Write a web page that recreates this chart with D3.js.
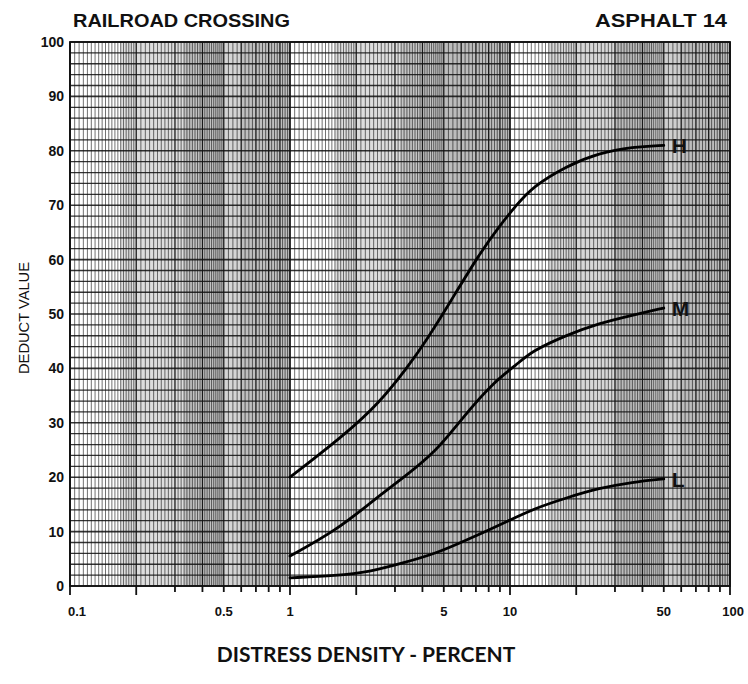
<!DOCTYPE html>
<html lang="en">
<head>
  <meta charset="UTF-8">
  <title>Railroad Crossing - Asphalt 14</title>
  <script src="https://d3js.org/d3.v7.min.js"></script>
  <style>
    body { margin: 0; background: #fff; }
    text { font-family: "Liberation Sans", Arial, sans-serif; fill: #111; }
  </style>
</head>
<body>
  <script>
    // Curve data (density %, deduct value)
    const densityH = [1, 1.81, 2.56, 3.39, 4.18, 5.31, 7.3, 8.95, 10.8, 12.6, 18, 25.4, 36, 50];
    const deductH  = [20, 28.1, 33.8, 40, 45.2, 52, 61.2, 66.2, 70.2, 73.3, 77.2, 79.6, 80.7, 81];

    const densityM = [1, 1.63, 2.3, 3.25, 4.64, 6.1, 8.33, 10.8, 12.6, 18, 25.4, 36, 50];
    const deductM  = [5.5, 10.3, 15.2, 19.8, 24.8, 31, 37.3, 40.8, 43.2, 46.1, 48.3, 49.8, 51.1];

    const densityL = [1, 1.63, 2.3, 3.25, 4.64, 6.56, 10, 13, 18, 25.4, 36, 50];
    const deductL  = [1.5, 1.9, 2.6, 4.2, 6.0, 8.7, 12.1, 14.3, 16.2, 18, 19.1, 19.7];

    const curveLabels = ["H", "M", "L"];

    const xTickLabels = [0.1, 0.5, 1, 5, 10, 50, 100];
    const yTickLabels = [0, 10, 20, 30, 40, 50, 60, 70, 80, 90, 100];

    // grey scan bands on the paper: [from, to, opacity]
    const bands = [
      [0.17, 0.33, 0.22], [0.33, 0.5, 0.4], [0.5, 0.6, 0.28], [0.6, 1, 0.42],
      [1.6, 3.2, 0.22], [3.2, 5, 0.38], [5, 10, 0.44],
      [15, 30, 0.26], [30, 45, 0.44], [45, 60, 0.32], [60, 100, 0.44]
    ];

    const width = 748, height = 684;
    const margin = { left: 70, right: 18, top: 42, bottom: 98 };

    const svg = d3.select("body").append("svg")
      .attr("width", width)
      .attr("height", height);

    const x = d3.scaleLog().domain([0.1, 100]).range([margin.left, width - margin.right]);
    const y = d3.scaleLinear().domain([0, 100]).range([height - margin.bottom, margin.top]);

    // paper bands
    svg.append("g").selectAll("rect")
      .data(bands)
      .join("rect")
      .attr("x", d => x(d[0]))
      .attr("width", d => x(d[1]) - x(d[0]))
      .attr("y", y(100))
      .attr("height", y(0) - y(100))
      .attr("fill", "#666")
      .attr("opacity", d => d[2]);

    // vertical log-paper rulings
    const vLines = [];
    [0.1, 1, 10].forEach(dec => {
      d3.range(1, 2, 0.05).forEach(v => vLines.push(+(v * dec).toFixed(4)));
      d3.range(2, 5, 0.1).forEach(v => vLines.push(+(v * dec).toFixed(4)));
      d3.range(5, 10, 0.25).forEach(v => vLines.push(+(v * dec).toFixed(4)));
    });
    vLines.push(100);

    const isWhole = v => {
      const e = Math.pow(10, Math.floor(Math.log10(v) + 1e-9));
      return Math.abs(v / e - Math.round(v / e)) < 1e-6;
    };
    const isDecade = v => Math.abs(Math.log10(v) - Math.round(Math.log10(v))) < 1e-6;

    svg.append("g").selectAll("line")
      .data(vLines)
      .join("line")
      .attr("x1", d => x(d)).attr("x2", d => x(d))
      .attr("y1", y(0)).attr("y2", y(100))
      .attr("stroke", "#111")
      .attr("stroke-width", d => isDecade(d) ? 1.8 : isWhole(d) ? 1.3 : 0.9)
      .attr("opacity", d => isWhole(d) ? 0.95 : 0.65);

    // horizontal rulings every 2
    svg.append("g").selectAll("line")
      .data(d3.range(0, 101, 2))
      .join("line")
      .attr("x1", x(0.1)).attr("x2", x(100))
      .attr("y1", d => y(d)).attr("y2", d => y(d))
      .attr("stroke", "#111")
      .attr("stroke-width", d => d % 10 === 0 ? 1.6 : 1.3)
      .attr("opacity", 0.85);

    // frame
    svg.append("rect")
      .attr("x", x(0.1)).attr("y", y(100))
      .attr("width", x(100) - x(0.1)).attr("height", y(0) - y(100))
      .attr("fill", "none").attr("stroke", "#111").attr("stroke-width", 1.8);

    // x ticks below the frame
    const tickVals = [];
    [0.1, 1, 10].forEach(dec => d3.range(1, 10).forEach(k => tickVals.push(+(k * dec).toFixed(4))));
    tickVals.push(100);
    svg.append("g").selectAll("line")
      .data(tickVals)
      .join("line")
      .attr("x1", d => x(d)).attr("x2", d => x(d))
      .attr("y1", y(0))
      .attr("y2", d => y(0) + (isDecade(d) || d === 0.2 || d === 2 || d === 20 ? 9 : 6))
      .attr("stroke", "#111")
      .attr("stroke-width", 1.8);

    svg.append("g").selectAll("text")
      .data(xTickLabels)
      .join("text")
      .attr("x", d => x(d))
      .attr("y", y(0) + 30)
      .attr("text-anchor", d => d === 0.1 ? "start" : d === 100 ? "end" : "middle")
      .attr("dx", d => d === 0.1 ? -2 : d === 100 ? 14 : 0)
      .attr("font-size", 13)
      .attr("font-weight", "bold")
      .text(d => d);

    // y tick labels
    svg.append("g").selectAll("text")
      .data(yTickLabels)
      .join("text")
      .attr("x", x(0.1) - 6)
      .attr("y", d => y(d) + 5)
      .attr("text-anchor", "end")
      .attr("font-size", 14)
      .attr("font-weight", "bold")
      .text(d => d);

    // curves
    const curves = [
      { name: curveLabels[0], xs: densityH, ys: deductH },
      { name: curveLabels[1], xs: densityM, ys: deductM },
      { name: curveLabels[2], xs: densityL, ys: deductL }
    ];
    const line = d3.line()
      .x(d => x(d[0]))
      .y(d => y(d[1]))
      .curve(d3.curveBasis);

    svg.append("g").selectAll("path")
      .data(curves)
      .join("path")
      .attr("d", c => line(c.xs.map((v, i) => [v, c.ys[i]])))
      .attr("fill", "none")
      .attr("stroke", "#000")
      .attr("stroke-width", 2.8)
      .attr("stroke-linecap", "round");

    svg.append("g").selectAll("text")
      .data(curves)
      .join("text")
      .attr("x", c => x(c.xs[c.xs.length - 1]) + 8)
      .attr("y", c => y(c.ys[c.ys.length - 1]) + 8)
      .attr("font-size", 21)
      .attr("font-weight", "bold")
      .text(c => c.name);

    // titles
    svg.append("text")
      .attr("x", 73).attr("y", 27)
      .attr("font-size", 18).attr("font-weight", "bold")
      .attr("textLength", 217).attr("lengthAdjust", "spacingAndGlyphs")
      .text("RAILROAD  CROSSING");
    svg.append("text")
      .attr("x", 595).attr("y", 27)
      .attr("font-size", 18).attr("font-weight", "bold")
      .attr("textLength", 132).attr("lengthAdjust", "spacingAndGlyphs")
      .text("ASPHALT  14");

    svg.append("text")
      .attr("transform", `translate(29, ${y(50) + 4}) rotate(-90)`)
      .attr("text-anchor", "middle")
      .attr("font-size", 15)
      .attr("textLength", 112).attr("lengthAdjust", "spacingAndGlyphs")
      .text("DEDUCT  VALUE");

    svg.append("text")
      .attr("x", 366).attr("y", 662)
      .attr("text-anchor", "middle")
      .style("font-family", "Lato, 'Open Sans', sans-serif")
      .attr("font-size", 21).attr("font-weight", "bold")
      .text("DISTRESS DENSITY - PERCENT");
  </script>
</body>
</html>
